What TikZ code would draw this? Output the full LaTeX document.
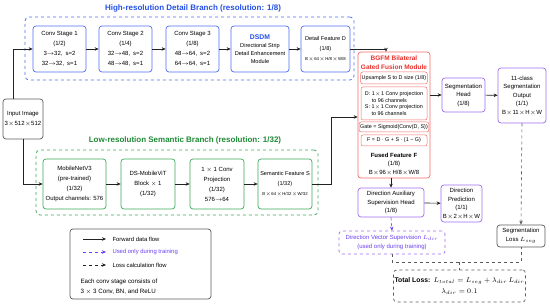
\documentclass[tikz,border=0pt]{standalone}
\usepackage{fontspec}
\setmainfont{Liberation Sans}
\usetikzlibrary{arrows.meta}
\definecolor{boxblue}{HTML}{4F6EF5}
\definecolor{titleblue}{HTML}{2350E6}
\definecolor{boxgreen}{HTML}{3DAA5C}
\definecolor{titlegreen}{HTML}{1F8A36}
\definecolor{boxred}{HTML}{F36D6A}
\definecolor{titlered}{HTML}{E8322E}
\definecolor{boxpurple}{HTML}{9E6BF2}
\definecolor{trainblue}{HTML}{6A3FF0}
\definecolor{boxgray}{HTML}{5A5A5A}
\definecolor{arrowgray}{HTML}{222222}
\newcommand{\tms}{\hspace{0.4pt}$\times$\hspace{0.4pt}}

\begin{document}
\begin{tikzpicture}[x=1pt,y=-1pt,
  box/.style={draw,rounded corners=3pt,line width=0.7pt,align=center,inner sep=1pt,
    font=\fontsize{6}{10}\selectfont},
  bluebox/.style={box,draw=boxblue},
  greenbox/.style={box,draw=boxgreen},
  redbox/.style={box,draw=boxred,rounded corners=2pt,line width=0.5pt,
    font=\fontsize{5.4}{6.6}\selectfont},
  purplebox/.style={box,draw=boxpurple,font=\fontsize{6}{8.5}\selectfont},
  graybox/.style={box,draw=boxgray},
  group/.style={draw,dashed,rounded corners=4pt,line width=0.8pt},
  flow/.style={-{Stealth[length=4pt,width=3.5pt]},line width=0.6pt,draw=arrowgray},
  trainflow/.style={flow,dashed,draw=trainblue},
  lossflow/.style={flow,dashed,draw=boxgray},
  lossline/.style={dashed,line width=0.6pt,draw=boxgray}]
\useasboundingbox (0,0) rectangle (550,307);

% high-resolution branch
\node[group,draw=boxblue,minimum width=329,minimum height=63] (detail) at (189.5,48.5) {};
\node[font=\fontsize{8}{9}\selectfont\bfseries,text=titleblue] (detailT) at (193,8)
  {High-resolution Detail Branch (resolution: 1/8)};
\node[bluebox,minimum width=53,minimum height=46] (cs1) at (59.5,49)
  {Conv Stage 1\\(1/2)\\3$\rightarrow$32,\enspace s=2\\32$\rightarrow$32,\enspace s=1};
\node[bluebox,minimum width=53,minimum height=46] (cs2) at (125.5,49)
  {Conv Stage 2\\(1/4)\\32$\rightarrow$48,\enspace s=2\\48$\rightarrow$48,\enspace s=1};
\node[bluebox,minimum width=53,minimum height=46] (cs3) at (192.5,49)
  {Conv Stage 3\\(1/8)\\48$\rightarrow$64,\enspace s=2\\64$\rightarrow$64,\enspace s=1};
\node[bluebox,minimum width=58,minimum height=46,font=\fontsize{5.6}{8}\selectfont] (dsdm) at (260,49)
  {{\fontsize{6.8}{8}\selectfont\bfseries\color{titleblue}DSDM}\\Directional Strip\\Detail Enhancement\\Module};
\node[bluebox,minimum width=49,minimum height=46,font=\fontsize{5.6}{10}\selectfont] (featD) at (325.5,49)
  {Detail Feature D\\(1/8)\\{\fontsize{4.3}{6}\selectfont B\tms64\tms H/8\tms W/8}};

% input
\node[graybox,minimum width=40,minimum height=40] (in) at (23,119)
  {Input Image\\3\tms512\tms512};

% low-resolution branch
\node[group,draw=boxgreen,minimum width=282,minimum height=65] (semantic) at (177,182.5) {};
\node[font=\fontsize{8}{9}\selectfont\bfseries,text=titlegreen] (semanticT) at (185,140)
  {Low-resolution Semantic Branch (resolution: 1/32)};
\node[greenbox,minimum width=63,minimum height=50] (mnv) at (74.5,184)
  {MobileNetV3\\(pre-trained)\\(1/32)\\Output channels: 576};
\node[greenbox,minimum width=54,minimum height=50] (vit) at (148,184)
  {DS-MobileViT\\Block $\times$ 1\\(1/32)};
\node[greenbox,minimum width=54,minimum height=50] (proj) at (217,184)
  {1 $\times$ 1 Conv\\Projection\\(1/32)\\576$\rightarrow$64};
\node[greenbox,minimum width=54,minimum height=50,font=\fontsize{5.6}{10}\selectfont] (featS) at (285,184)
  {Semantic Feature S\\(1/32)\\{\fontsize{4.3}{6}\selectfont B\tms64\tms H/32\tms W/32}};

% fusion module
\node[box,draw=boxred,minimum width=72,minimum height=126] (bgfm) at (394,115) {};
\node[font=\fontsize{6.5}{8.5}\selectfont\bfseries,text=titlered,align=center] (bgfmT) at (394,62.5)
  {BGFM Bilateral\\Gated Fusion Module};
\node[redbox,minimum width=66,minimum height=12] (ups) at (394,78)
  {Upsample S to D size (1/8)};
\node[redbox,minimum width=66,minimum height=33,align=left] (dsproj) at (394,103.5)
  {D: 1\tms1 Conv projection\\\phantom{D: }to 96 channels\\S: 1\tms1 Conv projection\\\phantom{S: }to 96 channels};
\node[redbox,minimum width=66,minimum height=10] (gate) at (394,127)
  {Gate = Sigmoid(Conv(D, S))};
\node[redbox,minimum width=66,minimum height=11] (fuse) at (394,140.5)
  {F = D · G + S · (1 − G)};
\node[align=center,font=\fontsize{6}{8.5}\selectfont] (fused) at (394,164)
  {\textbf{Fused Feature F}\\(1/8)\\B\tms96\tms H/8\tms W/8};

% heads and outputs
\node[purplebox,minimum width=43,minimum height=34] (seghead) at (463.5,95)
  {Segmentation\\Head\\(1/8)};
\node[purplebox,minimum width=48,minimum height=55] (segout) at (522,95.5)
  {11-class\\Segmentation\\Output\\(1/1)\\B\tms11\tms H\tms W};
\node[purplebox,minimum width=66,minimum height=29] (diraux) at (391,202.5)
  {Direction Auxiliary\\Supervision Head\\(1/8)};
\node[purplebox,minimum width=41,minimum height=37] (dirpred) at (461.5,203.5)
  {Direction\\Prediction\\(1/1)\\B\tms2\tms H\tms W};
\node[box,dashed,draw=boxpurple,minimum width=106,minimum height=23,font=\fontsize{6}{9}\selectfont] (dirvec) at (392,242.5)
  {\color{trainblue}Direction Vector Supervision $L_{dir}$\\\color{trainblue}(used only during training)};
\node[graybox,minimum width=48,minimum height=22,font=\fontsize{6}{9}\selectfont] (segloss) at (521,236)
  {Segmentation\\Loss $L_{seg}$};
\node[graybox,dashed,minimum width=131,minimum height=32,font=\fontsize{6.8}{11}\selectfont] (total) at (459.5,286)
  {\textbf{Total Loss:}\enspace $L_{total} = L_{seg} + \lambda_{dir}\,L_{dir}$\\$\lambda_{dir} = 0.1$};

% legend
\node[graybox,minimum width=141,minimum height=70] (legend) at (140.5,264) {};
\node[anchor=west,font=\fontsize{5.9}{7}\selectfont] (lg1) at (109,239) {Forward data flow};
\node[anchor=west,font=\fontsize{5.9}{7}\selectfont,text=trainblue] (lg2) at (109,252) {Used only during training};
\node[anchor=west,font=\fontsize{5.9}{7}\selectfont] (lg3) at (109,265) {Loss calculation flow};
\node[anchor=north west,align=left,font=\fontsize{6.2}{10}\selectfont] (lgnote) at (77,275)
  {Each conv stage consists of\\3 $\times$ 3 Conv, BN, and ReLU};
\draw[flow] ([xshift=-26pt]lg1.west) -- ([xshift=-3pt]lg1.west);
\draw[trainflow] ([xshift=-26pt]lg2.west) -- ([xshift=-3pt]lg2.west);
\draw[lossflow,draw=arrowgray] ([xshift=-26pt]lg3.west) -- ([xshift=-3pt]lg3.west);

% connectors
\draw[flow] ([xshift=-10pt]in.north) |- (cs1.west);
\draw[flow] (in.south) |- (mnv.west);
\draw[flow] (cs1) -- (cs2);
\draw[flow] (cs2) -- (cs3);
\draw[flow] (cs3) -- (dsdm);
\draw[flow] (dsdm) -- (featD);
\draw[flow] (featD.east) -| ([xshift=-8pt]bgfm.north);
\draw[flow] (mnv) -- (vit);
\draw[flow] (vit) -- (proj);
\draw[flow] (proj) -- (featS);
\draw[flow] (featS.east) -- ++(19,0) |- ([yshift=-2pt]bgfm.west);
\draw[flow] (bgfm.east |- seghead.west) -- (seghead.west);
\draw[flow] (seghead) -- (segout);
\draw[flow] (diraux.north |- bgfm.south) -- (diraux.north);
\draw[flow] (diraux) -- (dirpred);
\draw[trainflow] (diraux.south) -- (dirvec.north);
\draw[lossflow] (segout.south) -- (segloss.north);
\draw[lossline] (dirvec.south) -- ++(0,8) coordinate (join) -| (segloss.south);
\draw[lossline] (total.north |- join) -- (total.north);
\end{tikzpicture}
\end{document}
